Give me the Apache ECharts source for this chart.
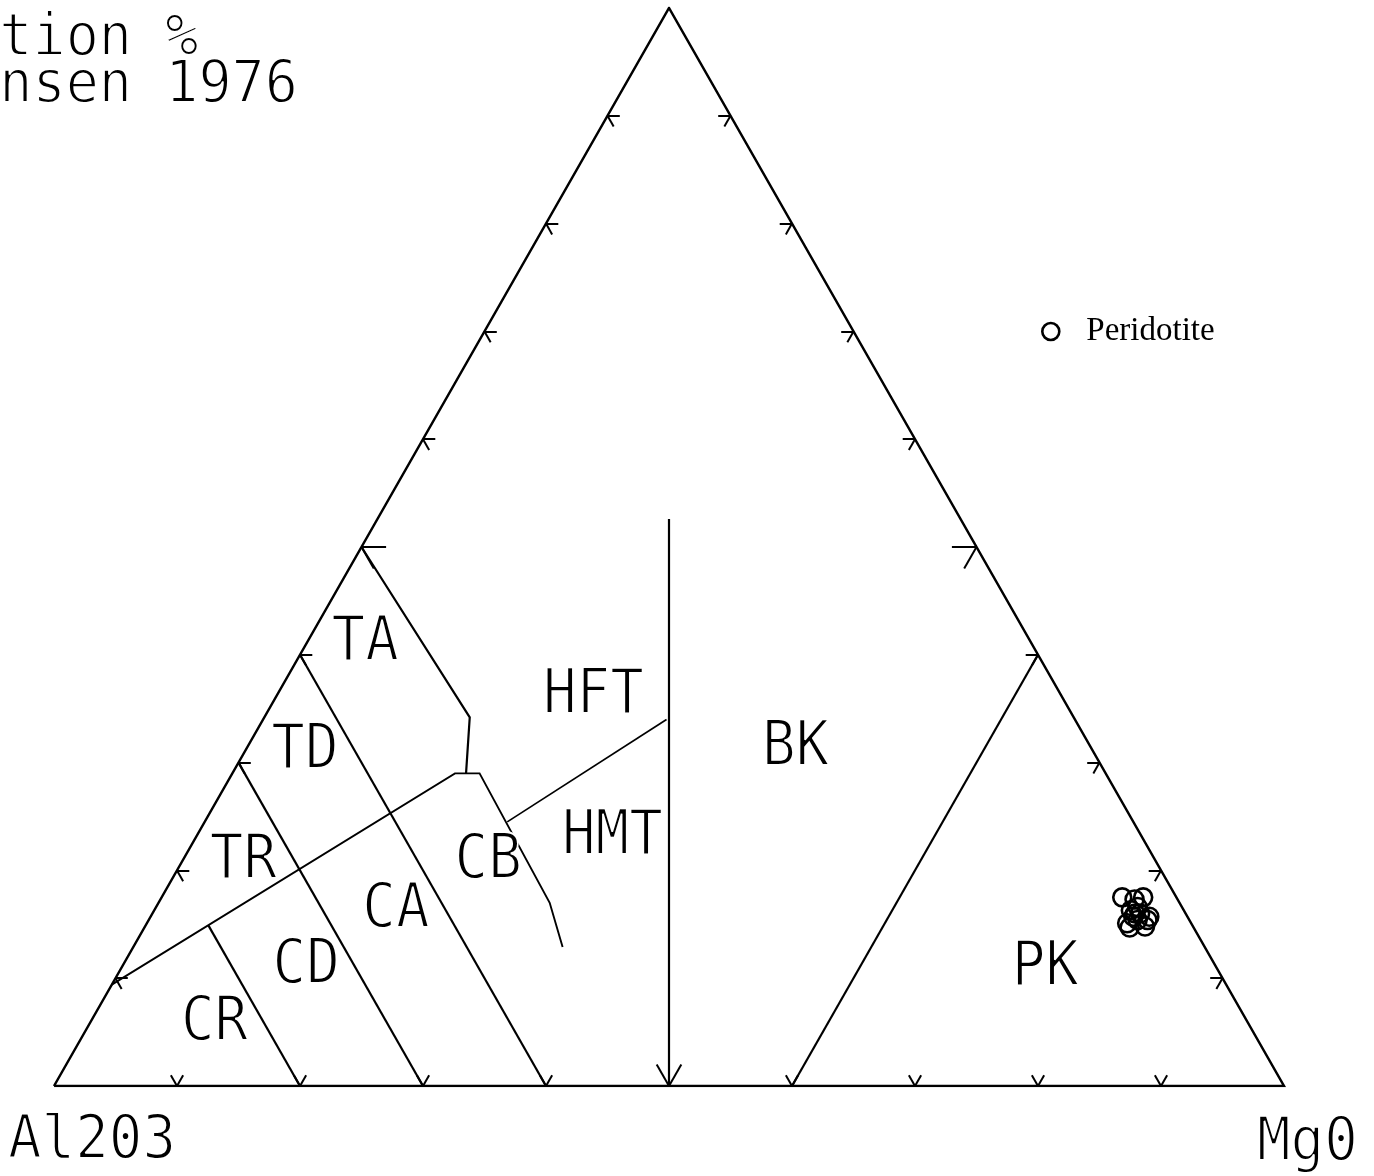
<!DOCTYPE html>
<html>
<head>
<meta charset="utf-8">
<script src="https://cdn.jsdelivr.net/npm/echarts@6/dist/echarts.min.js"></script>
<style>
  html, body { margin: 0; padding: 0; background: #fff; }
  #chart { width: 1374px; height: 1176px; }
</style>
</head>
<body>
<div id="chart"></div>
<script>
// Jensen cation plot. Every composition is [Al2O3, FeT+TiO2, MgO] in cation percent.
const triangle = [[100, 0, 0], [0, 100, 0], [0, 0, 100], [100, 0, 0]];

// Tholeiitic / calc-alkaline divide, continuing into the CB / HMT boundary
const thCaBoundary = [[90.6, 9.4, 0], [52.9, 29.0, 18.1], [50.9, 29.0, 20.1], [51.2, 17.0, 31.8], [52.2, 12.9, 34.9]];
// TA / CB boundary
const taCbBoundary = [[50, 50, 0], [49.1, 34.2, 16.7], [52.0, 29.0, 19.0]];
// HFT / HMT boundary
const hftHmtBoundary = [[33.2, 34.0, 32.8], [50.9, 24.5, 24.6]];
// high-Fe / high-Mg tholeiite vs basaltic komatiite
const tholeiiteKomatiite = [[23.7, 52.6, 23.7], [50, 0, 50]];
// rhyolite / dacite / andesite / basalt divides
const al80 = [[80, 14.9, 5.1], [80, 0, 20]];
const al70 = [[70, 30, 0], [70, 0, 30]];
const al60 = [[60, 40, 0], [60, 0, 40]];
// basaltic komatiite / peridotitic komatiite
const mg60 = [[0, 40, 60], [40, 0, 60]];

const tickValues = [10, 20, 30, 40, 50, 60, 70, 80, 90];
const majorTick = 50;

const fieldNames = ['TA', 'TD', 'TR', 'CR', 'CD', 'CA', 'CB', 'HFT', 'HMT', 'BK', 'PK'];
const fieldCentres = [
  [54.0, 41.4, 4.6], [63.9, 31.4, 4.7], [74.0, 21.2, 4.8], [83.9, 6.1, 10.0],
  [73.8, 11.4, 14.8], [63.9, 16.6, 19.5], [54.1, 21.2, 24.7], [37.9, 36.5, 25.6],
  [42.9, 23.4, 33.7], [23.9, 31.6, 44.5], [13.8, 11.2, 75.0]
];

// Peridotite analyses
const peridotite = [
  [4.4, 17.5, 78.1], [3.5, 17.3, 79.2], [2.7, 17.5, 79.8], [4.3, 16.3, 79.4],
  [4.4, 15.7, 79.9], [3.4, 15.4, 81.2], [5.2, 14.7, 80.1], [3.9, 14.8, 81.3],
  [3.7, 16.0, 80.3], [5.2, 15.1, 79.7], [3.6, 16.6, 79.8], [3.1, 15.7, 81.2],
  [4.1, 16.0, 79.9], [4.2, 15.4, 80.4]
];

const titleLines = ['Cation %', 'Jensen 1976'];
const apexLabels = ['Al203', 'Mg0'];

// ternary -> plot plane (x runs Al2O3 -> MgO, y is FeT+TiO2)
function toXY(c) {
  const [al, fe, mg] = c;
  return [mg + fe / 2, fe];
}
function path(list) { return list.map(toXY); }

// tick stubs follow the two iso-lines that meet each edge
function tickSegments() {
  const segs = [];
  tickValues.forEach(v => {
    const d = v === majorTick ? 2 : 1;
    // Al2O3 - FeT edge (MgO = 0)
    let p = [100 - v, v, 0];
    segs.push([p, [100 - v - d, v, d]]);
    segs.push([p, [100 - v, v - d, d]]);
    // FeT - MgO edge (Al2O3 = 0)
    p = [0, v, 100 - v];
    segs.push([p, [d, v, 100 - v - d]]);
    segs.push([p, [d, v - d, 100 - v]]);
    // Al2O3 - MgO edge (FeT = 0)
    p = [100 - v, 0, v];
    segs.push([p, [100 - v - d, d, v]]);
    segs.push([p, [100 - v, d, v - d]]);
  });
  return segs.map(s => ({ coords: path(s) }));
}

const ink = '#000';
function boundary(list, width) {
  return {
    type: 'lines', coordinateSystem: 'cartesian2d', polyline: true, silent: true,
    lineStyle: { color: ink, width: width, opacity: 1 },
    data: [{ coords: path(list) }]
  };
}

const chart = echarts.init(document.getElementById('chart'), null, { renderer: 'canvas' });

const monoFont = '"DejaVu Sans Mono", monospace';

// thin plotter-style lettering: the glyphs are filled, then their edges are
// trimmed by a white outline pass drawn on top
function plotterText(text, x, y, size, align, sx) {
  const base = {
    type: 'text', x: x, y: y, scaleX: sx || 0.9, silent: true
  };
  const font = {
    text: text, fontSize: size, fontFamily: monoFont,
    align: align || 'left', verticalAlign: 'middle'
  };
  return [
    Object.assign({}, base, { z: 10, style: Object.assign({ fill: ink }, font) }),
    Object.assign({}, base, { z: 11, style: Object.assign({ fill: 'rgba(0,0,0,0)', stroke: '#fff', lineWidth: 1.8 }, font) })
  ];
}

chart.setOption({
  animation: false,
  backgroundColor: '#fff',
  grid: { left: 54, top: 8, width: 1230, height: 1078 },
  xAxis: { type: 'value', min: 0, max: 100, show: false },
  yAxis: { type: 'value', min: 0, max: 100, show: false },
  legend: {
    data: ['Peridotite'], left: 1036, top: 310, itemWidth: 17, itemHeight: 17,
    icon: 'circle',
    itemStyle: { color: 'rgba(0,0,0,0)', borderColor: ink, borderWidth: 2.6, opacity: 1 },
    textStyle: { fontFamily: '"Liberation Serif", serif', fontSize: 33, color: ink, padding: [0, 0, 0, 22] }
  },
  series: [
    boundary(triangle, 2.5),
    {
      type: 'lines', coordinateSystem: 'cartesian2d', silent: true,
      lineStyle: { color: ink, width: 2, opacity: 1 },
      data: tickSegments()
    },
    boundary(thCaBoundary, 1.9),
    boundary(taCbBoundary, 2.2),
    boundary(hftHmtBoundary, 1.7),
    boundary(tholeiiteKomatiite, 2.2),
    boundary(al80, 2.2),
    boundary(al70, 2.2),
    boundary(al60, 2.2),
    boundary(mg60, 2.2),
    {
      name: 'Peridotite', type: 'scatter', symbol: 'circle', symbolSize: 18,
      itemStyle: { color: 'rgba(0,0,0,0)', borderColor: ink, borderWidth: 2.6, opacity: 1 },
      data: path(peridotite)
    }
  ]
});

// field names are placed at their compositions through the grid's scales
let fieldText = [];
fieldNames.forEach((n, i) => {
  const p = chart.convertToPixel({ gridIndex: 0 }, toXY(fieldCentres[i]));
  fieldText = fieldText.concat(plotterText(n, p[0], p[1] + 4, 62, 'center'));
});

chart.setOption({
  graphic: [].concat(
    plotterText(titleLines[0], -67, 40, 58, 'left', 0.95),
    plotterText(titleLines[1], -67, 87, 58, 'left', 0.95),
    plotterText(apexLabels[0], 8, 1142, 60, 'left', 0.93),
    plotterText(apexLabels[1], 1257, 1144, 60, 'left', 0.93),
    fieldText
  )
});
</script>
</body>
</html>
